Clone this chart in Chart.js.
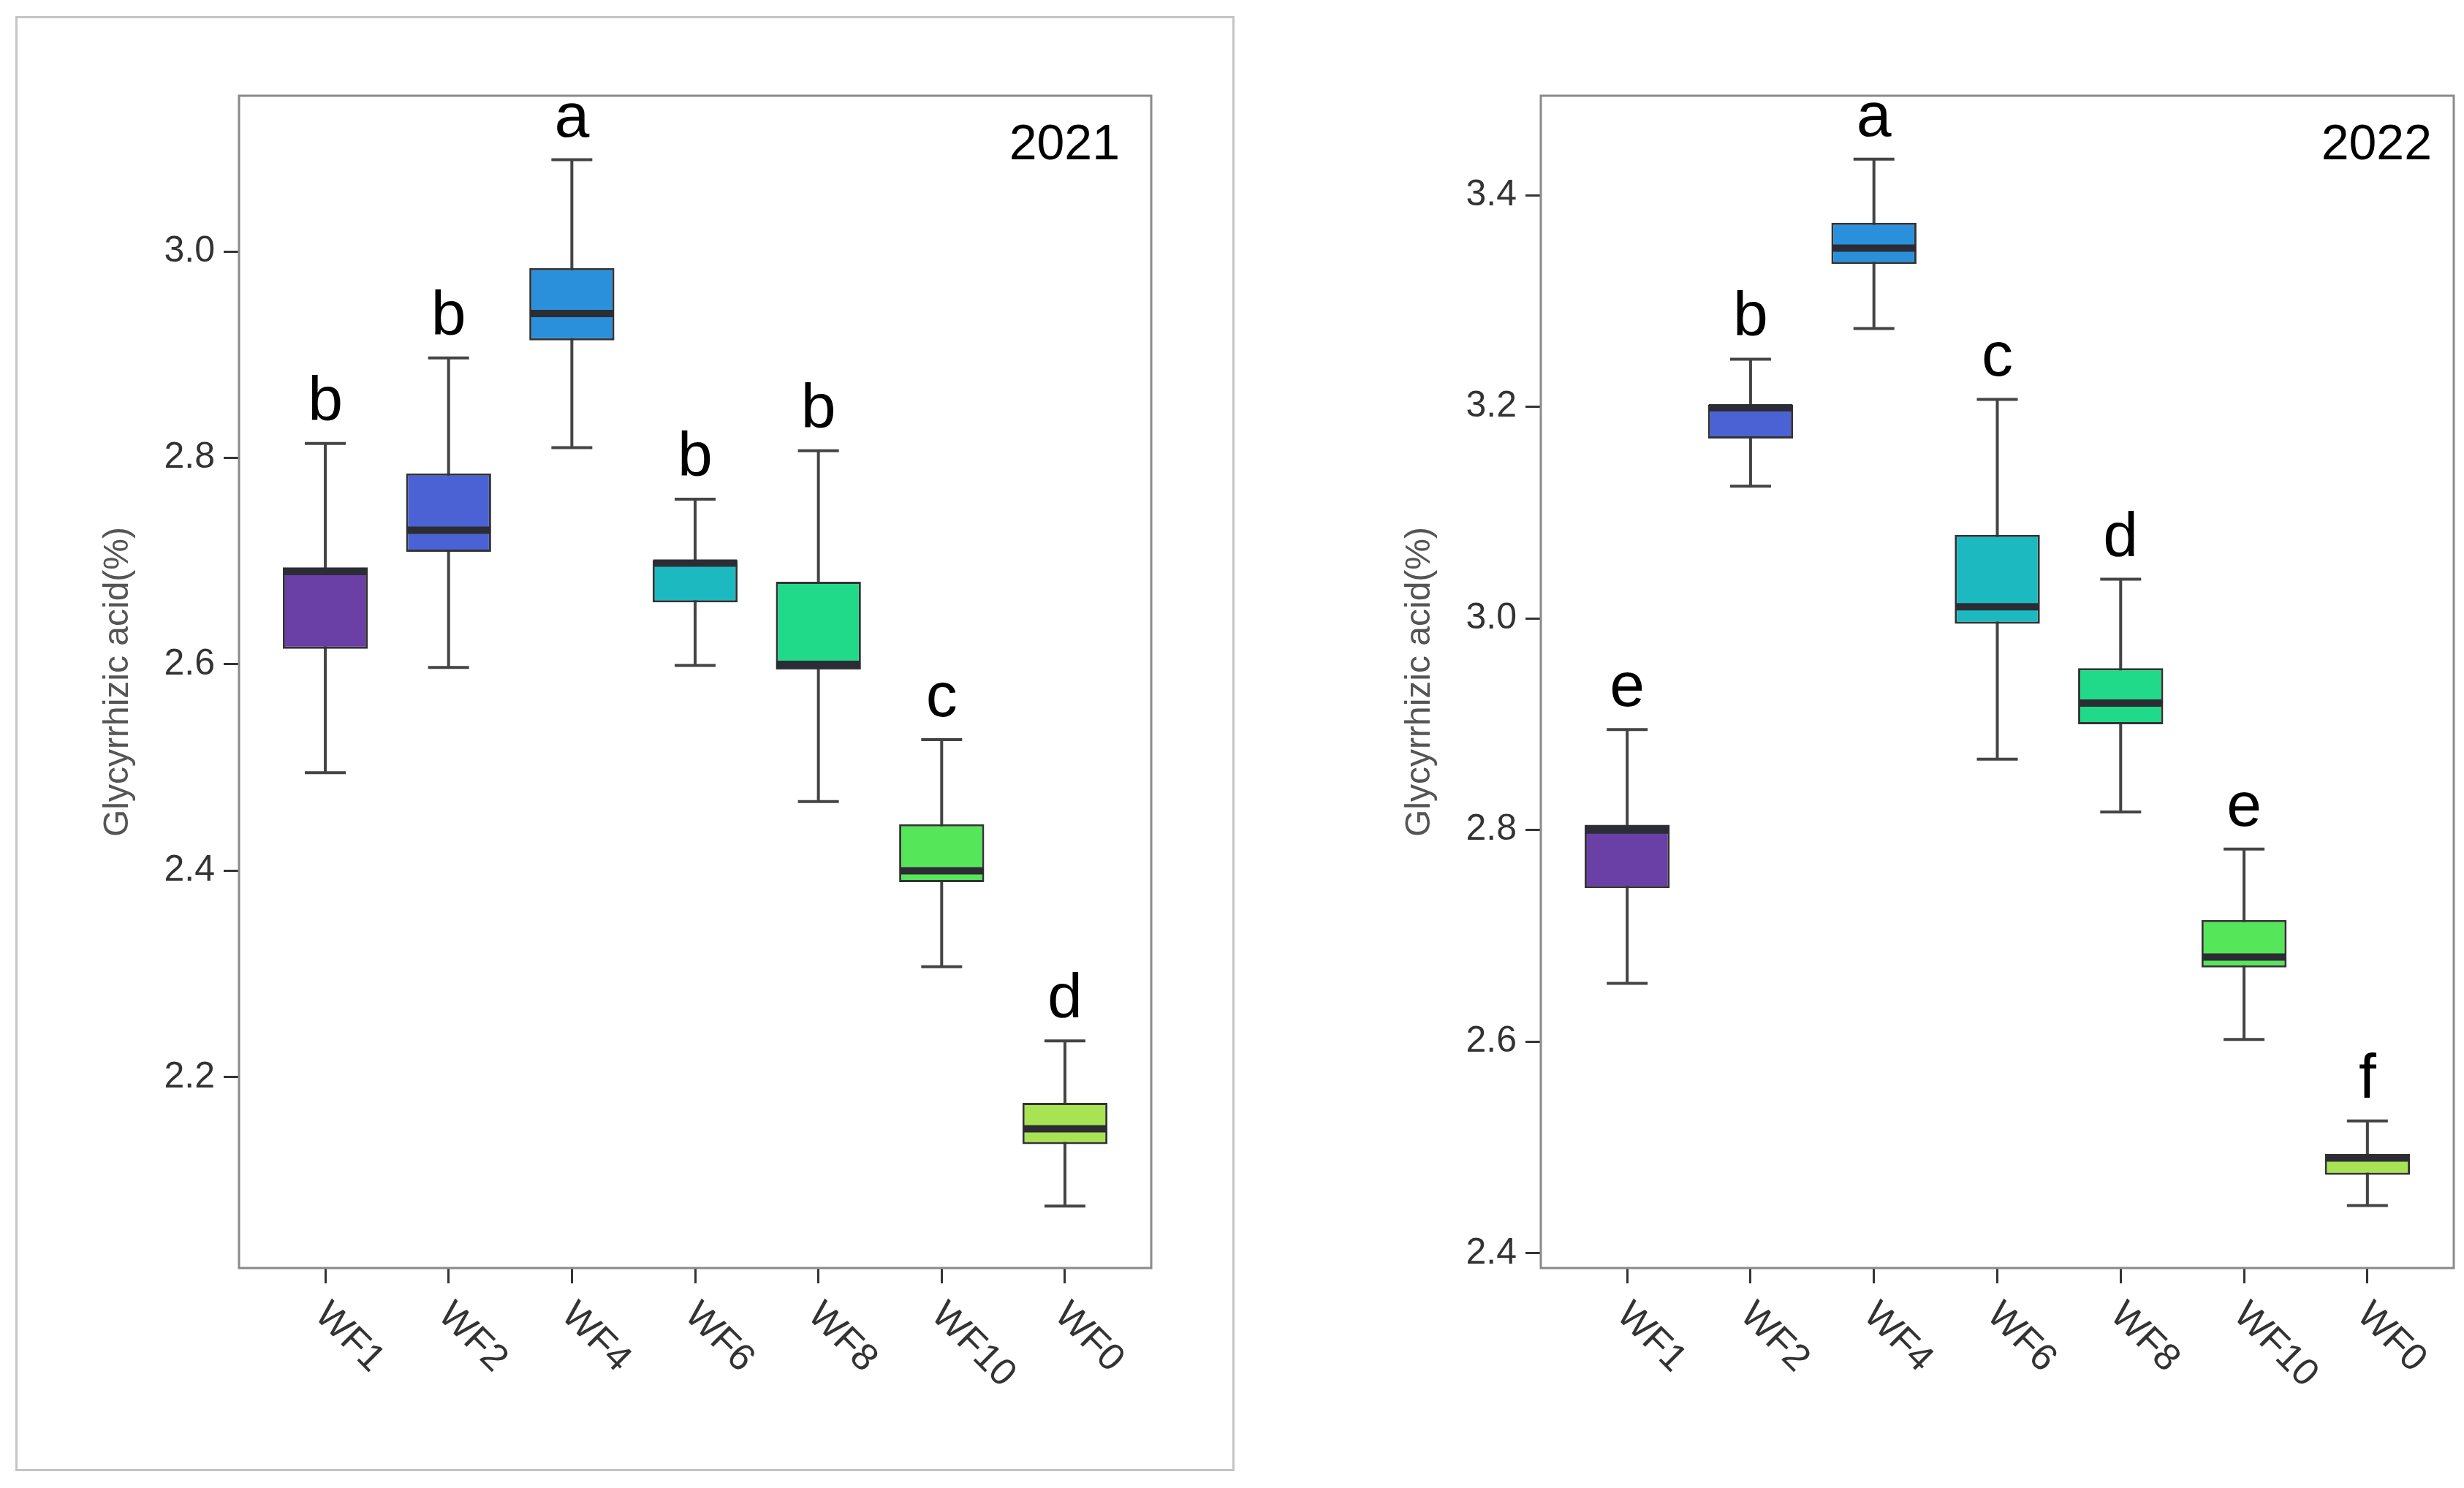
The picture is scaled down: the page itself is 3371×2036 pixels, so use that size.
<!DOCTYPE html>
<html lang="en">
<head>
    <meta charset="UTF-8">
    <title>Glycyrrhizic acid 2021 / 2022</title>
    <script src="https://cdn.jsdelivr.net/npm/chart.js"></script>
    <style>
        body { margin: 0; background: #fff; width: 3371px; height: 2036px; position: relative; overflow: hidden; }
        canvas { position: absolute; top: 0; }
        #frame { position: absolute; left: 21px; top: 22px; width: 1662px; height: 1985px; border: 3px solid #c4c4c4; }
    </style>
</head>
<body>
    <div id="frame"></div>
    <canvas id="chart2021" width="1700" height="2036" style="left:0"></canvas>
    <canvas id="chart2022" width="1671" height="2036" style="left:1700px"></canvas>

    <script>
        const categories = ['WF1', 'WF2', 'WF4', 'WF6', 'WF8', 'WF10', 'WF0'];
        const boxColors = ['#6a3fa6', '#4a62d4', '#2a90dc', '#1cbac0', '#20da8a', '#56e65a', '#a8e354'];

        // 2021
        const min2021 = [2.495, 2.597, 2.810, 2.599, 2.467, 2.307, 2.075];
        const q1_2021 = [2.615, 2.709, 2.914, 2.660, 2.595, 2.389, 2.135];
        const med2021 = [2.690, 2.730, 2.940, 2.698, 2.600, 2.400, 2.150];
        const q3_2021 = [2.694, 2.785, 2.984, 2.701, 2.680, 2.445, 2.175];
        const max2021 = [2.814, 2.897, 3.089, 2.760, 2.807, 2.527, 2.235];
        const letters2021 = ['b', 'b', 'a', 'b', 'b', 'c', 'd'];
        const ticks2021 = [2.2, 2.4, 2.6, 2.8, 3.0];

        // 2022
        const min2022 = [2.655, 3.125, 3.274, 2.867, 2.817, 2.602, 2.445];
        const q1_2022 = [2.745, 3.170, 3.335, 2.995, 2.900, 2.670, 2.474];
        const med2022 = [2.800, 3.199, 3.350, 3.011, 2.920, 2.680, 2.490];
        const q3_2022 = [2.805, 3.202, 3.374, 3.079, 2.953, 2.715, 2.494];
        const max2022 = [2.895, 3.245, 3.434, 3.207, 3.037, 2.782, 2.525];
        const letters2022 = ['e', 'b', 'a', 'c', 'd', 'e', 'f'];
        const ticks2022 = [2.4, 2.6, 2.8, 3.0, 3.2, 3.4];

        const FONT = '"Liberation Sans", Arial, sans-serif';

        // whiskers, medians, letters, labels and frame
        const boxExtras = {
            id: 'boxExtras',
            beforeDatasetsDraw(chart, args, o) {
                const {ctx, scales: {x, y}} = chart;
                ctx.save();
                ctx.strokeStyle = '#444';
                ctx.lineWidth = 4;
                o.min.forEach((v, i) => {
                    const px = x.getPixelForValue(i);
                    const top = y.getPixelForValue(o.max[i]);
                    const bot = y.getPixelForValue(v);
                    ctx.beginPath();
                    ctx.moveTo(px, top); ctx.lineTo(px, bot);
                    ctx.moveTo(px - 28, top); ctx.lineTo(px + 28, top);
                    ctx.moveTo(px - 28, bot); ctx.lineTo(px + 28, bot);
                    ctx.stroke();
                });
                ctx.restore();
            },
            afterDatasetsDraw(chart, args, o) {
                const {ctx, chartArea, scales: {x, y}} = chart;
                const meta = chart.getDatasetMeta(0);
                ctx.save();
                // medians
                ctx.strokeStyle = '#2c2c34';
                ctx.lineWidth = 10;
                o.med.forEach((v, i) => {
                    const px = x.getPixelForValue(i);
                    const half = meta.data[i].width / 2 - 1;
                    const py = y.getPixelForValue(v);
                    ctx.beginPath();
                    ctx.moveTo(px - half, py); ctx.lineTo(px + half, py);
                    ctx.stroke();
                });
                // letters
                ctx.fillStyle = '#000';
                ctx.font = '86px ' + FONT;
                ctx.textAlign = 'center';
                ctx.textBaseline = 'alphabetic';
                o.letters.forEach((t, i) => {
                    ctx.fillText(t, x.getPixelForValue(i), y.getPixelForValue(o.max[i]) - 32);
                });
                // year
                ctx.font = '68px ' + FONT;
                ctx.textAlign = 'right';
                ctx.fillText(o.year, chartArea.right - o.yearRight, chartArea.top + 87);
                // frame
                ctx.strokeStyle = '#8a8a8a';
                ctx.lineWidth = 3;
                ctx.strokeRect(chartArea.left, chartArea.top, chartArea.right - chartArea.left, chartArea.bottom - chartArea.top);
                // x labels, rotated down to the right
                ctx.fillStyle = '#333';
                ctx.font = '52px ' + FONT;
                ctx.textAlign = 'left';
                ctx.textBaseline = 'top';
                categories.forEach((c, i) => {
                    ctx.save();
                    ctx.translate(x.getPixelForValue(i) + 12, chartArea.bottom + 38);
                    ctx.rotate(Math.PI / 4);
                    ctx.fillText(c, 0, 0);
                    ctx.restore();
                });
                // y title
                ctx.fillStyle = '#555';
                ctx.font = '48px ' + FONT;
                ctx.textAlign = 'center';
                ctx.textBaseline = 'middle';
                ctx.translate(chartArea.left - 165, (chartArea.top + chartArea.bottom) / 2);
                ctx.rotate(-Math.PI / 2);
                ctx.fillText('Glycyrrhizic acid(%)', 0, 0);
                ctx.restore();
            }
        };

        function makeChart(id, q1, q3, extras, yMin, yMax, yTicks, axisWidth, padRight) {
            const ctx = document.getElementById(id).getContext('2d');
            return new Chart(ctx, {
                type: 'bar',
                data: {
                    datasets: [{
                        data: categories.map((c, i) => ({x: i, y: [q1[i], q3[i]]})),
                        backgroundColor: boxColors,
                        borderColor: '#333',
                        borderWidth: 3,
                        borderSkipped: false,
                        barPercentage: 0.69,
                        categoryPercentage: 1
                    }]
                },
                options: {
                    responsive: false,
                    animation: false,
                    devicePixelRatio: 1,
                    layout: { padding: { left: 0, top: 131, right: padRight, bottom: 0 } },
                    plugins: {
                        legend: { display: false },
                        tooltip: { enabled: false },
                        boxExtras: extras
                    },
                    scales: {
                        x: {
                            type: 'linear',
                            offset: false,
                            min: -0.7,
                            max: 6.7,
                            afterBuildTicks: s => { s.ticks = categories.map((c, i) => ({value: i})); },
                            afterFit: s => { s.height = 301; },
                            ticks: { display: false },
                            grid: { offset: false, drawOnChartArea: false, tickLength: 21, tickColor: '#333', lineWidth: 3 },
                            border: { display: false }
                        },
                        y: {
                            min: yMin,
                            max: yMax,
                            afterBuildTicks: s => { s.ticks = yTicks.map(v => ({value: v})); },
                            afterFit: s => { s.width = axisWidth; },
                            ticks: {
                                callback: v => v.toFixed(1),
                                color: '#333',
                                font: { family: FONT, size: 50 },
                                padding: 12
                            },
                            grid: { drawOnChartArea: false, tickLength: 21, tickColor: '#333', lineWidth: 3 },
                            border: { display: false }
                        }
                    }
                },
                plugins: [boxExtras]
            });
        }

        makeChart('chart2021', q1_2021, q3_2021,
            { min: min2021, max: max2021, med: med2021, letters: letters2021, year: '2021', yearRight: 43 },
            2.015, 3.151, ticks2021, 327, 125);

        makeChart('chart2022', q1_2022, q3_2022,
            { min: min2022, max: max2022, med: med2022, letters: letters2022, year: '2022', yearRight: 30 },
            2.386, 3.494, ticks2022, 408, 14);
    </script>
</body>
</html>
